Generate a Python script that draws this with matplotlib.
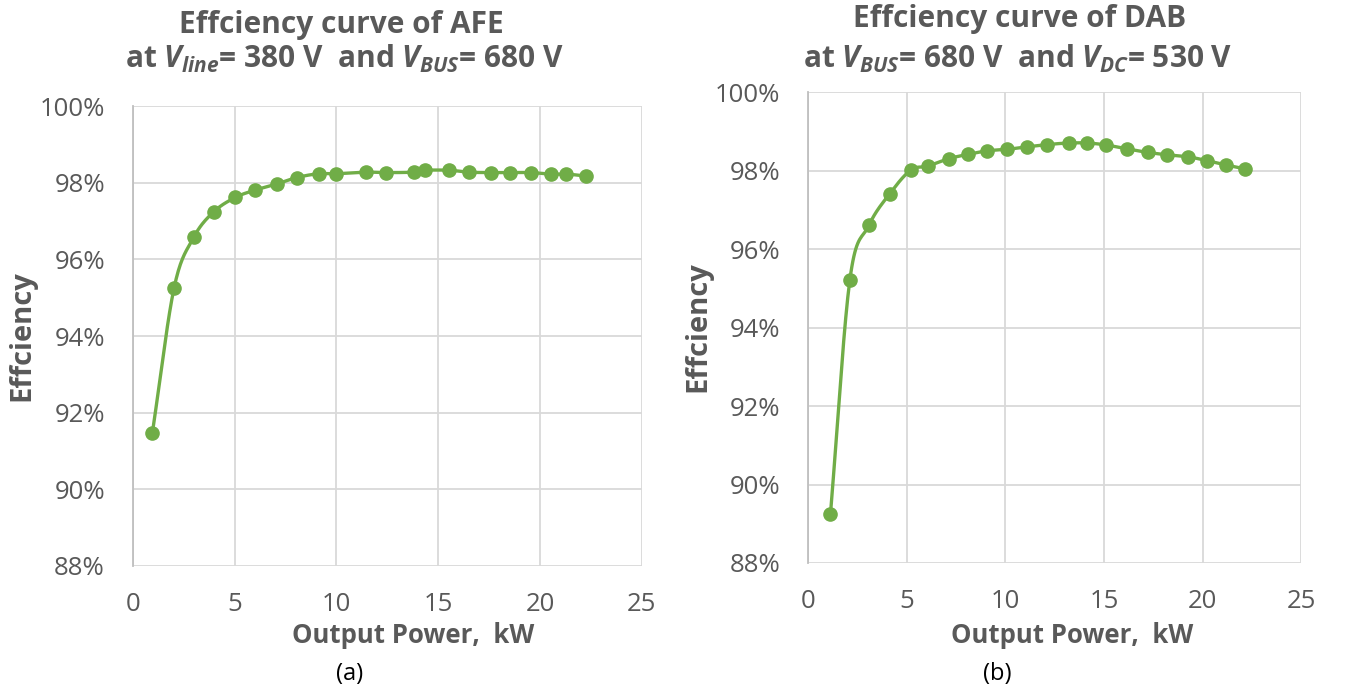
import numpy as np
import matplotlib
matplotlib.use("Agg")
import matplotlib.pyplot as plt
from matplotlib.ticker import PercentFormatter, MultipleLocator

# data (kW, %)
afe_power = [0.97, 2.03, 3.0, 3.99, 5.04, 6.0, 7.07, 8.06, 9.13, 10.0, 11.46,
             12.43, 13.79, 14.37, 15.55, 16.52, 17.59, 18.55, 19.54, 20.52, 21.3, 22.25]
afe_eff = [91.48, 95.25, 96.58, 97.25, 97.62, 97.81, 97.97, 98.14, 98.24, 98.24, 98.28,
           98.27, 98.28, 98.33, 98.33, 98.28, 98.27, 98.27, 98.27, 98.23, 98.23, 98.18]

dab_power = [1.13, 2.11, 3.08, 4.14, 5.2, 6.05, 7.13, 8.09, 9.06, 10.1, 11.07,
             12.13, 13.2, 14.16, 15.1, 16.19, 17.23, 18.2, 19.26, 20.22, 21.19, 22.15]
dab_eff = [89.25, 95.21, 96.61, 97.42, 98.02, 98.12, 98.31, 98.42, 98.51, 98.55, 98.61,
           98.67, 98.71, 98.71, 98.66, 98.56, 98.47, 98.41, 98.36, 98.26, 98.15, 98.05]

GREEN = '#70AD47'
GRAY = '#595959'
FONT = 'Open Sans'

plt.rcParams['font.family'] = [FONT, 'DejaVu Sans']
plt.rcParams['mathtext.fontset'] = 'custom'
plt.rcParams['mathtext.it'] = FONT + ':italic:bold'
plt.rcParams['mathtext.rm'] = FONT + ':bold'
plt.rcParams['mathtext.bf'] = FONT + ':bold'


def smooth(x, y, n=20):
    # catmull-rom through the points, like Excel's "smoothed line"
    p = np.column_stack([x, y]).astype(float)
    p = np.vstack([2 * p[0] - p[1], p, 2 * p[-1] - p[-2]])
    out = []
    t = np.linspace(0, 1, n)[:, None]
    for i in range(1, len(p) - 2):
        p0, p1, p2, p3 = p[i - 1], p[i], p[i + 1], p[i + 2]
        seg = 0.5 * ((2 * p1) + (-p0 + p2) * t + (2 * p0 - 5 * p1 + 4 * p2 - p3) * t ** 2
                     + (-p0 + 3 * p1 - 3 * p2 + p3) * t ** 3)
        out.append(seg)
    out = np.vstack(out)
    return out[:, 0], out[:, 1]


def draw(ax, xs, ys):
    sx, sy = smooth(xs, ys)
    ax.plot(sx, sy, color=GREEN, lw=2.4, solid_capstyle='round', zorder=3)
    ax.plot(xs, ys, 'o', color=GREEN, ms=9.5, zorder=4)
    ax.set_xlim(0, 25)
    ax.set_ylim(88, 100)
    ax.xaxis.set_major_locator(MultipleLocator(5))
    ax.yaxis.set_major_locator(MultipleLocator(2))
    ax.yaxis.set_major_formatter(PercentFormatter(100, decimals=0))
    ax.grid(True, color='#d9d9d9', lw=1.3)
    for s in ax.spines.values():
        s.set_visible(False)
    ax.spines['left'].set_visible(True)
    ax.spines['left'].set_color('#bfbfbf')
    ax.spines['left'].set_linewidth(1.3)
    ax.tick_params(length=0, labelsize=18.5, labelcolor=GRAY)
    ax.tick_params(axis='x', pad=19)
    ax.tick_params(axis='y', pad=20)
    ax.set_axisbelow(True)


fig = plt.figure(figsize=(13.47, 6.95), dpi=100)

ax1 = fig.add_axes([0.0985, 0.186, 0.378, 0.661])
draw(ax1, afe_power, afe_eff)

ax2 = fig.add_axes([0.600, 0.190, 0.366, 0.677])
draw(ax2, dab_power, dab_eff)


def px(x, y):
    return x / 1347, 1 - y / 695


tkw = dict(color=GRAY, fontsize=21.5, fontweight='bold', ha='center', va='baseline')
fig.text(*px(341, 33), 'Effciency curve of AFE', **tkw)
fig.text(*px(345, 68), r'at $V_{line}$= 380 V  and $V_{BUS}$= 680 V', **tkw)
fig.text(*px(1020, 27), 'Effciency curve of DAB', **tkw)
fig.text(*px(1018, 68), r'at $V_{BUS}$= 680 V  and $V_{DC}$= 530 V', **tkw)

lkw = dict(color=GRAY, fontsize=18.5, fontweight='bold', ha='center', va='baseline')
fig.text(*px(413, 643), 'Output Power,  kW', **lkw)
fig.text(*px(1072, 643), 'Output Power,  kW', **lkw)

ykw = dict(color=GRAY, fontsize=21, fontweight='bold', ha='center', va='center', rotation=90)
fig.text(*px(22, 336), 'Effciency', **ykw)
fig.text(*px(698, 327), 'Effciency', **ykw)

fig.text(*px(350, 674), '(a)', color='black', fontsize=17, ha='center', va='center')
fig.text(*px(997, 674), '(b)', color='black', fontsize=17, ha='center', va='center')

fig.savefig('out.png', dpi=100)
